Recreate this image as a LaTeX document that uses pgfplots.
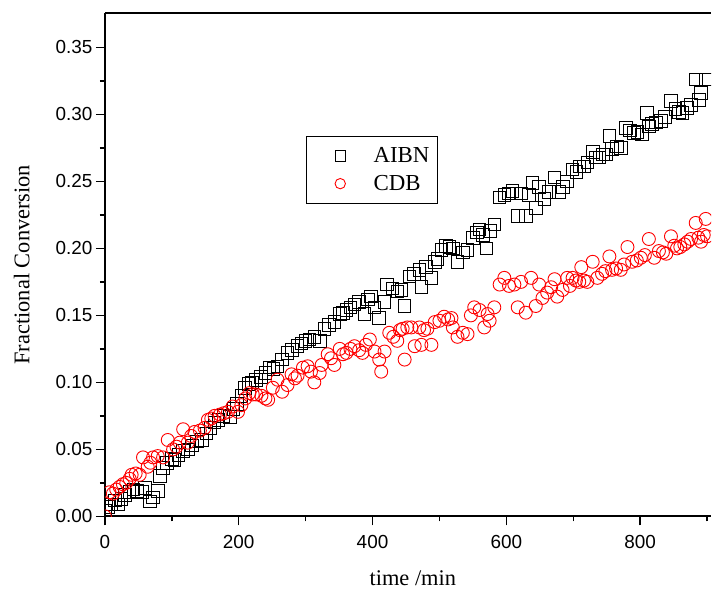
\documentclass[border=0pt]{standalone}
\usepackage{fontspec}
\setmainfont{Liberation Serif}
\setsansfont{Liberation Sans}
\usepackage{pgfplots}
\pgfplotsset{compat=1.18}
\begin{document}
\begin{tikzpicture}
\begin{axis}[
  at={(0,0)}, anchor=south west,
  scale only axis, width=607bp, height=504bp,
  xmin=0, xmax=906, ymin=0, ymax=0.3757,
  enlargelimits=false,
  axis lines*=left,
  clip marker paths=true,
  axis line style={line width=1.8bp},
  every tick/.style={black, line width=1.5bp},
  tick align=outside,
  major tick length=9bp, minor tick length=5bp,
  xtick={0,200,400,600,800}, minor xtick={100,300,500,700,900},
  ytick={0,0.05,0.10,0.15,0.20,0.25,0.30,0.35},
  minor ytick={0.025,0.075,0.125,0.175,0.225,0.275,0.325},
  /pgf/number format/assume math mode=true,
  tick label style={font=\sffamily\fontsize{19}{19}\selectfont},
  yticklabel style={/pgf/number format/fixed, /pgf/number format/fixed zerofill, /pgf/number format/precision=2},
  xticklabel style={yshift=-6bp},
  xlabel={time /min},
  ylabel={Fractional Conversion},
  label style={font=\fontsize{22.5}{22.5}\selectfont, inner sep=0pt},
  xlabel style={at={(axis description cs:0.508,-0.123)}, anchor=center},
  ylabel style={at={(axis description cs:-0.137,0.5)}, anchor=center},
  legend style={at={(axis cs:300,0.2836)}, anchor=north west, draw=black, line width=0.8bp,
    font=\fontsize{23}{23}\selectfont, inner xsep=6bp, inner ysep=9bp, row sep=7bp, column sep=9.6bp,
    legend cell align=left},
  legend image code/.code={\path[draw=none] (0bp,0bp) -- (50bp,0bp); \draw[mark size=5.2bp] plot coordinates {(28.3bp,0bp)};},
]
\addplot[only marks, mark=square, mark size=6.3bp, mark options={black, line width=0.9bp}] coordinates {
(0,0.004)(5,0.007)(10,0.009)(15,0.012)(20,0.009)(25,0.013)(30,0.016)(37,0.018)(43,0.020)(48,0.019)
(55,0.018)(60,0.021)(67,0.011)(72,0.014)(79,0.019)(82,0.030)(87,0.036)(93,0.040)(100,0.043)(104,0.042)
(110,0.046)(117,0.049)(124,0.050)(130,0.053)(138,0.056)(145,0.057)(152,0.062)(158,0.066)(164,0.070)(170,0.072)
(177,0.075)(187,0.074)(192,0.080)(197,0.084)(204,0.090)(209,0.096)(215,0.099)(220,0.100)(226,0.102)(233,0.104)
(240,0.107)(246,0.111)(252,0.110)(258,0.112)(265,0.117)(273,0.122)(280,0.124)(288,0.127)(294,0.129)(300,0.131)
(306,0.132)(313,0.134)(321,0.131)(328,0.140)(335,0.143)(343,0.145)(351,0.151)(356,0.152)(361,0.154)(367,0.156)
(373,0.158)(380,0.160)(388,0.151)(393,0.162)(398,0.164)(403,0.156)(410,0.148)(418,0.160)(422,0.173)(430,0.170)
(437,0.168)(443,0.169)(448,0.157)(455,0.179)(462,0.181)(470,0.184)(473,0.171)(480,0.186)(488,0.178)(493,0.190)
(497,0.192)(503,0.199)(510,0.202)(515,0.201)(520,0.200)(527,0.190)(535,0.197)(542,0.199)(550,0.208)(556,0.212)
(560,0.214)(565,0.210)(570,0.200)(576,0.213)(582,0.218)(590,0.238)(597,0.240)(604,0.241)(609,0.243)(617,0.224)
(622,0.241)(629,0.224)(634,0.240)(639,0.249)(644,0.230)(649,0.246)(657,0.237)(664,0.242)(672,0.253)(679,0.242)
(685,0.246)(691,0.250)(699,0.259)(705,0.257)(709,0.261)(716,0.261)(721,0.264)(729,0.272)(734,0.268)(739,0.268)
(744,0.270)(749,0.270)(754,0.284)(758,0.274)(765,0.276)(771,0.275)(779,0.290)(785,0.288)(791,0.286)(796,0.287)
(803,0.285)(810,0.301)(813,0.291)(818,0.293)(824,0.294)(831,0.295)(837,0.298)(846,0.310)(853,0.304)(858,0.302)
(863,0.301)(870,0.305)(876,0.307)(883,0.326)(888,0.311)(891,0.316)(898,0.326)
};
\addlegendentry{AIBN}
\addplot[only marks, mark=o, mark size=6.5bp, mark options={red, line width=0.9bp}] coordinates {
(0,0.000)(7,0.018)(12,0.017)(17,0.020)(22,0.022)(27,0.024)(32,0.025)(37,0.028)(40,0.031)(46,0.032)
(52,0.031)(57,0.044)(64,0.037)(68,0.040)(72,0.044)(79,0.045)(87,0.044)(94,0.057)(102,0.050)(107,0.052)
(112,0.055)(117,0.065)(124,0.055)(129,0.060)(134,0.063)(142,0.064)(149,0.066)(154,0.072)(159,0.073)(164,0.075)
(172,0.076)(178,0.077)(184,0.078)(191,0.082)(199,0.078)(204,0.083)(210,0.088)(216,0.092)(221,0.091)(226,0.091)
(234,0.090)(240,0.088)(244,0.087)(251,0.096)(258,0.102)(265,0.093)(273,0.098)(279,0.106)(284,0.103)(288,0.105)
(296,0.111)(303,0.112)(308,0.108)(313,0.100)(321,0.107)(324,0.113)(333,0.121)(338,0.118)(343,0.113)(351,0.125)
(356,0.121)(361,0.122)(367,0.125)(373,0.127)(380,0.124)(385,0.122)(390,0.128)(396,0.132)(403,0.123)(410,0.117)
(413,0.108)(418,0.123)(425,0.137)(431,0.134)(437,0.131)(441,0.139)(445,0.140)(448,0.117)(452,0.141)(458,0.141)
(463,0.127)(470,0.141)(473,0.128)(477,0.139)(482,0.140)(488,0.128)(493,0.145)(500,0.146)(507,0.149)(513,0.147)
(518,0.148)(520,0.141)(527,0.134)(535,0.137)(542,0.136)(547,0.150)(552,0.156)(560,0.154)(567,0.141)(572,0.151)
(575,0.146)(582,0.156)(590,0.173)(597,0.178)(604,0.172)(612,0.173)(617,0.156)(622,0.175)(629,0.152)(637,0.178)
(644,0.157)(649,0.173)(654,0.163)(661,0.167)(667,0.171)(672,0.177)(676,0.164)(684,0.169)(691,0.178)(695,0.172)
(699,0.178)(704,0.176)(709,0.175)(712,0.186)(716,0.176)(721,0.175)(729,0.190)(736,0.178)(743,0.181)(748,0.183)
(754,0.194)(758,0.184)(764,0.185)(771,0.184)(776,0.188)(781,0.201)(788,0.190)(795,0.191)(801,0.193)(807,0.195)
(813,0.207)(821,0.193)(828,0.198)(834,0.197)(839,0.196)(846,0.209)(851,0.202)(855,0.200)(860,0.201)(866,0.203)
(871,0.205)(876,0.207)(883,0.219)(887,0.208)(891,0.205)(895,0.210)(898,0.222)(900,0.209)
};
\addlegendentry{CDB}
\draw[line width=1.8bp] (rel axis cs:0,1) -- (rel axis cs:1,1);
\end{axis}
\path (-105bp,-76bp) (607bp,517bp);
\end{tikzpicture}
\end{document}
